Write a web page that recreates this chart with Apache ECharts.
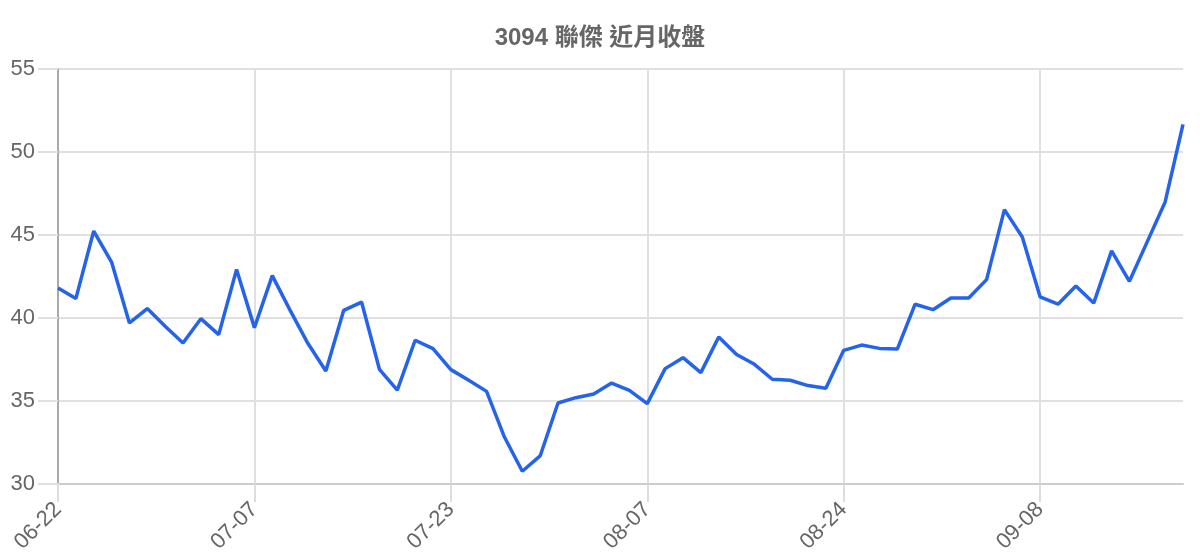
<!DOCTYPE html>
<html>
<head>
<meta charset="utf-8">
<script src="https://cdn.jsdelivr.net/npm/echarts@6/dist/echarts.min.js"></script>
<style>html,body{margin:0;padding:0;background:#fff;}#c{width:1200px;height:560px;}</style>
</head>
<body>
<div id="c"></div>
<script>
const titleText = '3094 聯傑 近月收盤';
const dates = [
  '06-22','06-23','06-24','06-25','06-26','06-29','06-30','07-01','07-02','07-03','07-06','07-07',
  '07-08','07-09','07-13','07-14','07-15','07-16','07-17','07-20','07-21','07-22','07-23',
  '07-24','07-27','07-28','07-29','07-30','07-31','08-03','08-04','08-05','08-06','08-07',
  '08-10','08-11','08-12','08-13','08-14','08-17','08-18','08-19','08-20','08-21','08-24',
  '08-25','08-26','08-27','08-28','08-31','09-01','09-02','09-03','09-04','09-07','09-08',
  '09-09','09-10','09-11','09-14','09-15','09-16','09-17','09-18'
];
const closes = [
  41.81, 41.17, 45.24, 43.37, 39.70, 40.57, 39.50, 38.49, 39.96, 39.00, 42.92, 39.42,
  42.55, 40.46, 38.46, 36.81, 40.46, 40.96, 36.91, 35.66, 38.66, 38.16, 36.89,
  36.25, 35.58, 32.83, 30.77, 31.69, 34.88, 35.20, 35.42, 36.08, 35.64, 34.84,
  36.95, 37.61, 36.71, 38.86, 37.80, 37.21, 36.31, 36.25, 35.93, 35.77, 38.05,
  38.37, 38.17, 38.13, 40.83, 40.50, 41.20, 41.20, 42.31, 46.53, 44.88, 41.27,
  40.83, 41.93, 40.90, 44.04, 42.21, 44.60, 46.99, 51.67
];
const yTicks = [30, 35, 40, 45, 50, 55];

const chart = echarts.init(document.getElementById('c'), null, {renderer: 'canvas'});
chart.setOption({
  animation: false,
  backgroundColor: '#ffffff',
  title: {
    text: titleText,
    left: 'center',
    top: 21,
    textStyle: {
      color: '#666666',
      fontSize: 24,
      fontWeight: 'bold',
      fontFamily: '"Liberation Sans", "Noto Sans CJK TC", sans-serif'
    }
  },
  grid: {left: 58, right: 17, top: 69, bottom: 76, containLabel: false},
  xAxis: {
    type: 'category',
    data: dates,
    boundaryGap: false,
    axisLine: {show: true, lineStyle: {color: '#cccccc', width: 2}},
    axisTick: {show: true, interval: 10, length: 18, lineStyle: {color: '#dddddd', width: 2}},
    axisLabel: {
      interval: 10,
      rotate: 45,
      margin: 22,
      color: '#666666',
      fontSize: 22,
      fontFamily: '"Liberation Sans", sans-serif'
    },
    splitLine: {show: true, interval: 10, lineStyle: {color: '#e0e0e0', width: 2}}
  },
  yAxis: {
    type: 'value',
    min: yTicks[0],
    max: yTicks[yTicks.length - 1],
    interval: 5,
    axisLine: {show: true, lineStyle: {color: '#aaaaaa', width: 2}},
    axisTick: {show: true, length: 20, lineStyle: {color: '#e0e0e0', width: 2}},
    axisLabel: {
      margin: 23,
      color: '#666666',
      fontSize: 22,
      fontFamily: '"Liberation Sans", sans-serif'
    },
    splitLine: {show: true, lineStyle: {color: '#e0e0e0', width: 2}}
  },
  series: [{
    type: 'line',
    data: closes,
    showSymbol: false,
    symbol: 'none',
    lineStyle: {color: '#2563eb', width: 3.5},
    itemStyle: {color: '#2563eb'}
  }]
});
</script>
</body>
</html>
